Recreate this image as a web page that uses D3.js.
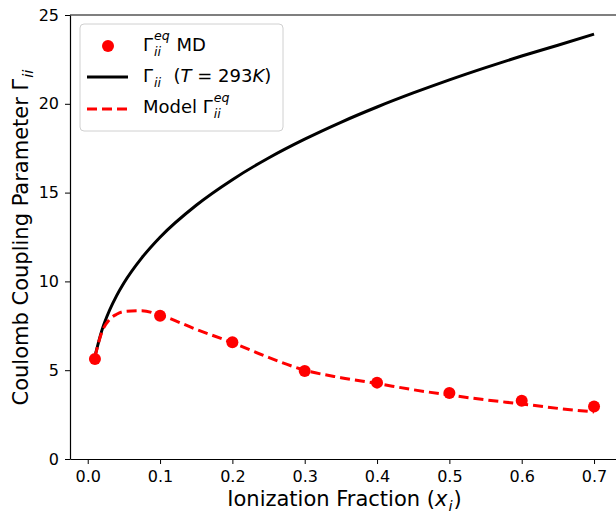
<!DOCTYPE html>
<html>
<head>
<meta charset="utf-8">
<script src="https://cdn.jsdelivr.net/npm/d3@7"></script>
<style>
  body { margin: 0; background: #fff; }
  svg { display: block; font-family: "DejaVu Sans", sans-serif; }
</style>
</head>
<body>
<svg id="chart" width="616" height="514"></svg>
<script>
// MD points
const mdX = [0.01, 0.1, 0.2, 0.3, 0.4, 0.5, 0.6, 0.7];
const mdGamma = [5.63, 8.07, 6.57, 4.95, 4.30, 3.72, 3.28, 2.95];

// curves
const curveX = [0.01, 0.02, 0.03, 0.04, 0.05, 0.075, 0.1, 0.15, 0.2, 0.25, 0.3, 0.35, 0.4, 0.45, 0.5, 0.55, 0.6, 0.65, 0.7];
const gammaT = [5.79, 7.30, 8.36, 9.20, 9.91, 11.34, 12.49, 14.29, 15.73, 16.95, 18.01, 18.96, 19.82, 20.61, 21.35, 22.04, 22.69, 23.30, 23.92];
const modelGamma = [5.75, 7.2, 7.85, 8.15, 8.3, 8.35, 8.1, 7.3, 6.55, 5.72, 5.0, 4.58, 4.25, 3.9, 3.6, 3.33, 3.1, 2.85, 2.65];

const xTicks = [0, 0.1, 0.2, 0.3, 0.4, 0.5, 0.6, 0.7];
const yTicks = [0, 5, 10, 15, 20, 25];

const svg = d3.select('#chart');
const plotL = 70, plotR = 619, plotT = 15, plotB = 459;

let x = d3.scaleLinear().domain([-0.0245, 0.7345]).range([plotL, plotR]);
let y = d3.scaleLinear().domain([0, 25]).range([plotB, plotT]);

// axes
let xAxis = svg.append('g')
    .attr('transform', `translate(0,${plotB})`)
    .call(d3.axisBottom(x).tickValues(xTicks).tickFormat(d3.format('.1f')).tickSize(5).tickPadding(7).tickSizeOuter(0));
let yAxis = svg.append('g')
    .attr('transform', `translate(${plotL},0)`)
    .call(d3.axisLeft(y).tickValues(yTicks).tickFormat(d3.format('d')).tickSize(5).tickPadding(6).tickSizeOuter(0));
[xAxis, yAxis].forEach(function(a) {
    a.selectAll('text').attr('font-size', 16).attr('font-family', '"DejaVu Sans", sans-serif').attr('fill', '#000');
    a.selectAll('line').attr('stroke', '#000').attr('stroke-width', 1);
    a.select('.domain').attr('stroke', '#000').attr('stroke-width', 1.2);
});
// top & right spines
svg.append('line').attr('x1', plotL).attr('x2', plotR).attr('y1', plotT).attr('y2', plotT)
    .attr('stroke', '#000').attr('stroke-width', 1.2);
svg.append('line').attr('x1', plotR).attr('x2', plotR).attr('y1', plotT).attr('y2', plotB)
    .attr('stroke', '#000').attr('stroke-width', 1.2);

let line = d3.line()
    .x(function(d) { return x(d[0]); })
    .y(function(d) { return y(d[1]); })
    .curve(d3.curveMonotoneX);

svg.append('path')
    .datum(curveX.map(function(v, i) { return [v, gammaT[i]]; }))
    .attr('d', line)
    .attr('fill', 'none')
    .attr('stroke', '#000')
    .attr('stroke-width', 3);

svg.append('path')
    .datum(curveX.map(function(v, i) { return [v, modelGamma[i]]; }))
    .attr('d', line)
    .attr('fill', 'none')
    .attr('stroke', '#ff0000')
    .attr('stroke-width', 3)
    .attr('stroke-dasharray', '10,5');

svg.selectAll('circle.md')
    .data(mdX.map(function(v, i) { return [v, mdGamma[i]]; }))
    .enter()
    .append('circle')
    .attr('class', 'md')
    .attr('cx', function(d) { return x(d[0]); })
    .attr('cy', function(d) { return y(d[1]); })
    .attr('r', 6)
    .attr('fill', '#ff0000');

// little helper for "text + subscript/superscript" runs
function mathText(g, x0, y0, size, parts) {
    let cx = x0;
    parts.forEach(function(p) {
        if (p.sub !== undefined || p.sup !== undefined) {
            let w = 0;
            if (p.sub) {
                let t = g.append('text').attr('x', cx + 1).attr('y', y0 + size * 0.25)
                    .attr('font-size', size * 0.7).attr('font-style', 'italic').text(p.sub);
                w = Math.max(w, t.node().getComputedTextLength());
            }
            if (p.sup) {
                let t = g.append('text').attr('x', cx + 1).attr('y', y0 - size * 0.6)
                    .attr('font-size', size * 0.7).attr('font-style', 'italic').text(p.sup);
                w = Math.max(w, t.node().getComputedTextLength());
            }
            cx += w + 2;
        } else {
            let t = g.append('text').attr('x', cx).attr('y', y0).attr('font-size', size)
                .attr('font-style', p.italic ? 'italic' : 'normal')
                .style('white-space', 'pre').text(p.t);
            cx += t.node().getComputedTextLength();
        }
    });
    return cx;
}

// axis labels
let xl = svg.append('g');
let xlEnd = mathText(xl, 0, 506, 21, [{t: 'Ionization Fraction ('}, {t: 'x', italic: true}, {sub: 'i'}, {t: ')'}]);
xl.attr('transform', `translate(${(plotL + plotR) / 2 - xlEnd / 2},0)`);

let yl = svg.append('g');
let ylEnd = mathText(yl, 0, 0, 21, [{t: 'Coulomb Coupling Parameter Γ'}, {sub: 'ii'}]);
yl.attr('transform', `translate(28,${(plotT + plotB) / 2 + ylEnd / 2}) rotate(-90)`);

// legend
let lg = svg.append('g');
lg.append('rect').attr('x', 80).attr('y', 24).attr('width', 203).attr('height', 107)
    .attr('rx', 4).attr('fill', '#fff').attr('fill-opacity', 0.8)
    .attr('stroke', '#d0d0d0').attr('stroke-width', 1);
lg.append('circle').attr('cx', 108).attr('cy', 46).attr('r', 6).attr('fill', '#ff0000');
lg.append('line').attr('x1', 87).attr('x2', 128).attr('y1', 77).attr('y2', 77)
    .attr('stroke', '#000').attr('stroke-width', 3);
lg.append('line').attr('x1', 87).attr('x2', 128).attr('y1', 109).attr('y2', 109)
    .attr('stroke', '#ff0000').attr('stroke-width', 3).attr('stroke-dasharray', '10,5');
mathText(lg, 143, 51, 18, [{t: 'Γ'}, {sub: 'ii', sup: 'eq'}, {t: ' MD'}]);
mathText(lg, 143, 82, 18, [{t: 'Γ'}, {sub: 'ii'}, {t: '  ('}, {t: 'T', italic: true}, {t: ' = 293'}, {t: 'K', italic: true}, {t: ')'}]);
mathText(lg, 143, 113, 18, [{t: 'Model Γ'}, {sub: 'ii', sup: 'eq'}]);
</script>
</body>
</html>
